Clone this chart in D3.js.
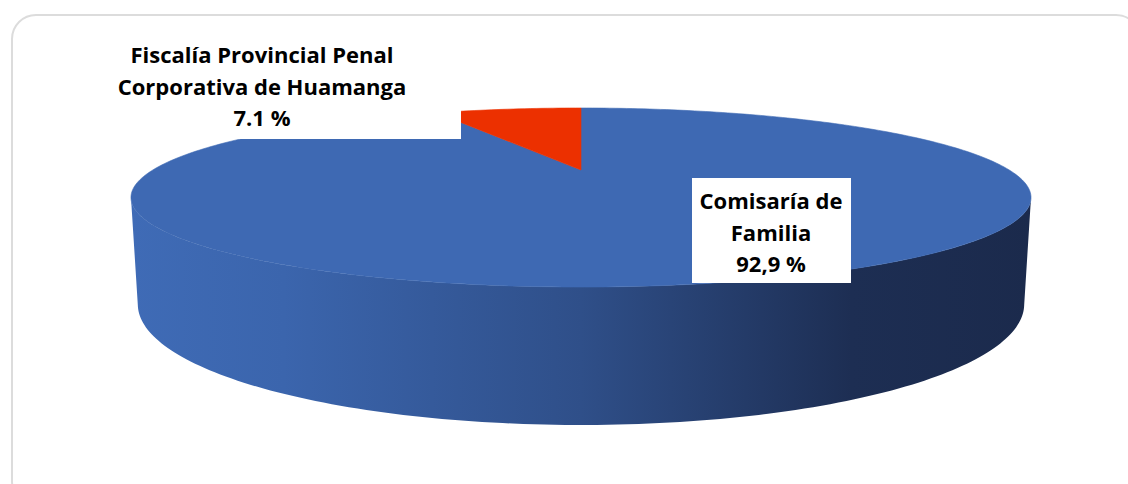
<!DOCTYPE html>
<html>
<head>
<meta charset="utf-8">
<script src="https://cdn.jsdelivr.net/npm/d3@7"></script>
<style>
html,body{margin:0;padding:0;background:#fff;}
svg{display:block;}
text{font-family:"Open Sans",Lato,sans-serif;font-weight:700;fill:#000;}
</style>
</head>
<body>
<svg id="chart" width="1128" height="484"></svg>
<script>
// ---- data ----
const categories = ["Comisaría de Familia", "Fiscalía Provincial Penal Corporativa de Huamanga"];
const values = [92.9, 7.1];
const valueLabels = ["92,9 %", "7.1 %"];
const labelLines = [["Comisaría de", "Familia"], ["Fiscalía Provincial Penal", "Corporativa de Huamanga"]];
const colors = ["#3e69b3", "#ec3000"];

// ---- layout / camera ----
const W = 1128, H = 484;
const cx = 581, cy = 170;          // projected circle centre
const f = 1368.7, D = 3.196, h = 0.2358;
const phi = Math.asin(0.1893);
const s = Math.sin(phi), c = Math.cos(phi);

function project(X, Y, Z) {
  const v = Z * s + Y * c;
  const w = D + Z * c - Y * s;
  return [cx + f * X / w, cy - f * v / w];
}
function rim(theta, Y) { return project(Math.sin(theta), Y, Math.cos(theta)); }

const svg = d3.select("#chart");
const defs = svg.append("defs");

// frame
svg.append("rect")
  .attr("x", 12).attr("y", 15).attr("width", 1128).attr("height", 490)
  .attr("rx", 24).attr("ry", 24)
  .attr("fill", "#fff").attr("stroke", "#dcdcdc").attr("stroke-width", 2);

const pie = d3.pie().sort(null).value(d => d)(values);

// wall gradients
const gBlue = defs.append("linearGradient").attr("id", "wall0")
  .attr("gradientUnits", "userSpaceOnUse").attr("x1", 130).attr("x2", 1032).attr("y1", 0).attr("y2", 0);
[[0, "#3f6bb6"], [0.17, "#3b65ad"], [0.5, "#2f4f89"], [0.8, "#1d2e53"], [1, "#1b2a4c"]]
  .forEach(([o, col]) => gBlue.append("stop").attr("offset", o).attr("stop-color", col));
const gRed = defs.append("linearGradient").attr("id", "wall1")
  .attr("gradientUnits", "userSpaceOnUse").attr("x1", 130).attr("x2", 1032).attr("y1", 0).attr("y2", 0);
[[0, "#c42800"], [1, "#7a1800"]]
  .forEach(([o, col]) => gRed.append("stop").attr("offset", o).attr("stop-color", col));

// visible (front) range of the outer wall: between the silhouette generators
const thR = Math.acos(-c / D), thL = 2 * Math.PI - thR;
function arcPts(a0, a1, Y) {
  const n = Math.max(4, Math.ceil(360 * Math.abs(a1 - a0) / (2 * Math.PI)));
  return d3.range(n + 1).map(k => rim(a0 + (a1 - a0) * k / n, Y));
}
pie.forEach((d, i) => {
  const a0 = Math.max(d.startAngle, thR), a1 = Math.min(d.endAngle, thL);
  if (a1 <= a0) return;
  const pts = arcPts(a0, a1, 0).concat(arcPts(a1, a0, -h));
  svg.append("path")
    .attr("d", "M" + pts.map(p => p.join(",")).join("L") + "Z")
    .attr("fill", `url(#wall${i})`);
});

// top faces
pie.forEach((d, i) => {
  const pts = [project(0, 0, 0)].concat(arcPts(d.startAngle, d.endAngle, 0));
  svg.append("path")
    .attr("d", "M" + pts.map(p => p.join(",")).join("L") + "Z")
    .attr("fill", colors[i]).attr("stroke", colors[i]).attr("stroke-width", 0.6);
});

// labels
const labelBoxes = [
  {x: 692, y: 178, w: 159, h: 105, tx: 771, by: 209},
  {x: 63, y: 36, w: 398, h: 103, tx: 262, by: 63}
];
const lh = 31.6;
pie.forEach((d, i) => {
  const b = labelBoxes[i];
  svg.append("rect").attr("x", b.x).attr("y", b.y).attr("width", b.w).attr("height", b.h).attr("fill", "#fff");
  const lines = labelLines[i].concat([valueLabels[i]]);
  const t = svg.append("text").attr("text-anchor", "middle").attr("font-size", 22);
  lines.forEach((ln, k) => {
    t.append("tspan").attr("x", b.tx).attr("y", b.by + k * lh).text(ln);
  });
});
</script>
</body>
</html>
